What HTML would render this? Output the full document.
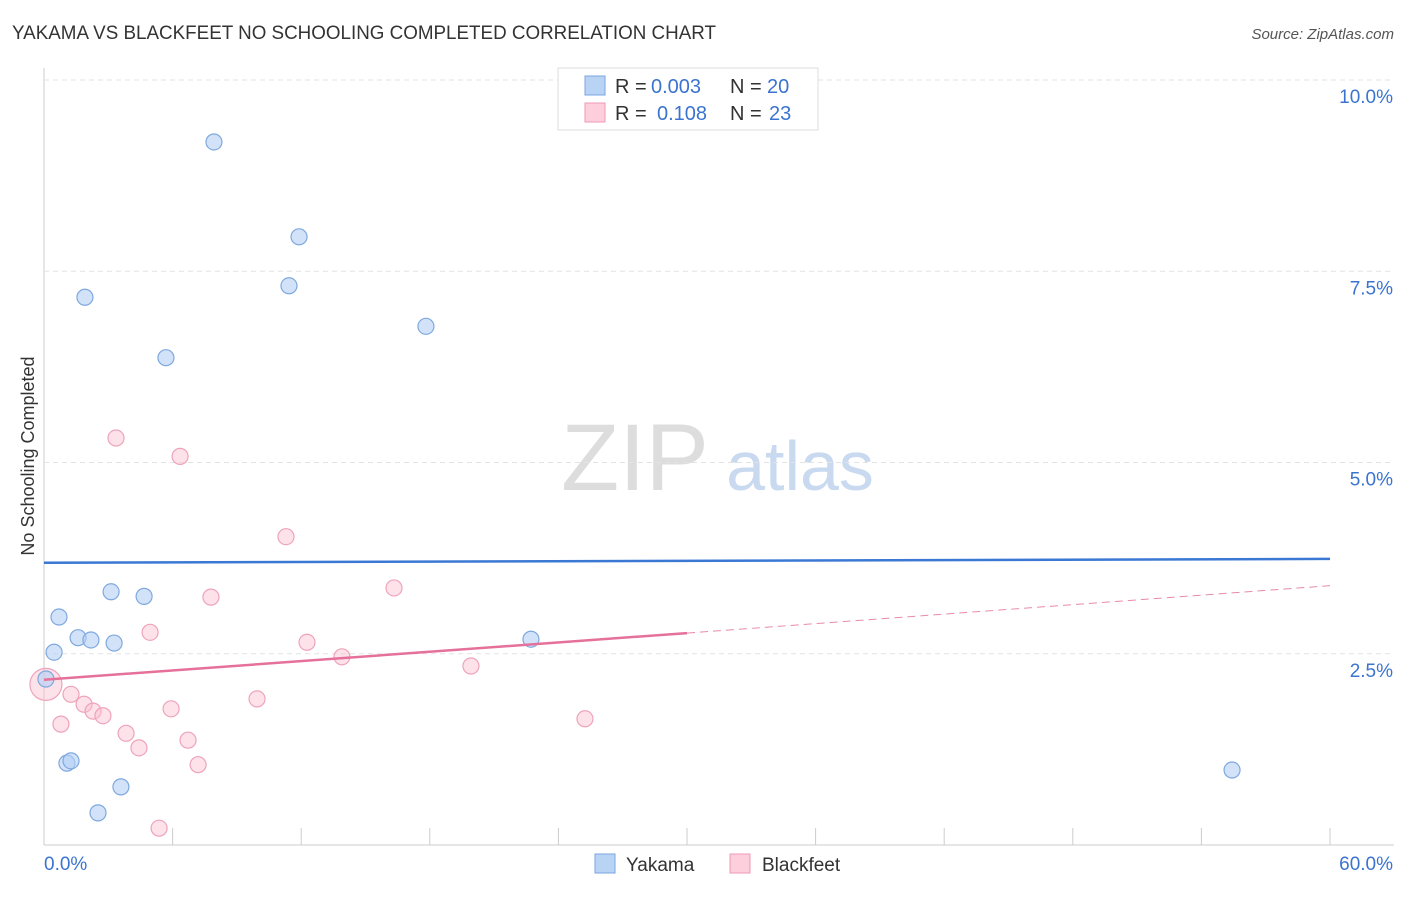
<!DOCTYPE html>
<html><head><meta charset="utf-8"><style>
body{margin:0;background:#fff;font-family:"Liberation Sans",sans-serif;}
svg text{font-family:"Liberation Sans",sans-serif;}
</style></head><body>
<svg id="c" width="1406" height="892" xmlns="http://www.w3.org/2000/svg">
<text x="12" y="39" font-size="19" fill="#333" textLength="704" lengthAdjust="spacingAndGlyphs">YAKAMA VS BLACKFEET NO SCHOOLING COMPLETED CORRELATION CHART</text>
<text x="1394" y="39" font-size="15" fill="#555" font-style="italic" text-anchor="end">Source: ZipAtlas.com</text>
<text x="34" y="456" font-size="18" fill="#333" text-anchor="middle" transform="rotate(-90 34 456)">No Schooling Completed</text>
<g><text x="635" y="490" font-size="95" fill="#ddd" font-family="Liberation Serif" text-anchor="middle">ZIP</text><text x="800" y="490" font-size="70" fill="#c8d9f0" text-anchor="middle">atlas</text></g>
<g id="grid"></g><g id="marks"></g>
<g>
<rect x="558" y="68" width="260" height="62" fill="#fff" stroke="#ddd"/>
<rect x="585" y="76" width="20" height="19" fill="#b9d3f5" stroke="#7aa6e0"/>
<rect x="585" y="103" width="20" height="19" fill="#fdcfdc" stroke="#ef9ab5"/>
<text x="615" y="93" font-size="20" fill="#333">R =</text>
<text x="651" y="93" font-size="20" fill="#3b74d0">0.003</text>
<text x="730" y="93" font-size="20" fill="#333">N =</text>
<text x="767" y="93" font-size="20" fill="#3b74d0">20</text>
<text x="615" y="120" font-size="20" fill="#333">R =</text>
<text x="657" y="120" font-size="20" fill="#3b74d0">0.108</text>
<text x="730" y="120" font-size="20" fill="#333">N =</text>
<text x="769" y="120" font-size="20" fill="#3b74d0">23</text>
</g>
<g>
<rect x="595" y="854" width="20" height="19" fill="#b9d3f5" stroke="#7aa6e0"/>
<text x="626" y="871" font-size="19" fill="#333">Yakama</text>
<rect x="730" y="854" width="20" height="19" fill="#fdcfdc" stroke="#ef9ab5"/>
<text x="762" y="871" font-size="19" fill="#333">Blackfeet</text>
</g>
</svg>
<script>
const yTicks=[2.5,5.0,7.5,10.0];
const xTickLabels=["0.0%","60.0%"];
const yakX=[7.93,11.9,11.43,1.91,5.69,17.82,3.13,4.67,0.70,0.47,1.59,2.19,3.27,22.72,0.09,1.07,1.26,3.59,2.52,55.43];
const yakY=[9.19,7.95,7.31,7.16,6.37,6.78,3.31,3.25,2.98,2.52,2.71,2.68,2.64,2.69,2.17,1.07,1.10,0.76,0.42,0.98];
const blkX=[3.36,6.35,11.29,16.33,7.79,4.95,12.27,13.9,19.92,0.09,1.26,1.87,2.29,2.75,0.79,5.93,9.94,3.83,4.43,6.72,7.19,25.24,5.37];
const blkY=[5.32,5.08,4.03,3.36,3.24,2.78,2.65,2.46,2.34,2.10,1.97,1.84,1.75,1.69,1.58,1.78,1.91,1.46,1.27,1.37,1.05,1.65,0.22];
const yakLine=[3.69,3.74];
const blkLine=[2.16,2.77,3.39];
const NS="http://www.w3.org/2000/svg";
const sx=v=>44+v/60*1286, sy=v=>845-v*76.5;
function mk(t,a,p){const e=document.createElementNS(NS,t);for(const k in a)e.setAttribute(k,a[k]);p.appendChild(e);return e;}
const g=document.getElementById('grid'),m=document.getElementById('marks');
let ax=mk('line',{x1:44,y1:68,x2:44,y2:845,stroke:'#ccc'},g);

let bx=mk('line',{x1:44,y1:845,x2:1394,y2:845,stroke:'#ccc'},g);

for(let i=1;i<=10;i++){const t=mk('line',{x1:44+i*128.6,y1:828,x2:44+i*128.6,y2:845,stroke:'#ccc'},g);
}
yTicks.forEach(v=>{const l=mk('line',{x1:44,y1:sy(v),x2:1394,y2:sy(v),stroke:'#e3e3e3','stroke-dasharray':'5,4'},g);

const t=mk('text',{x:1393,y:sy(v)+23,'font-size':19,fill:'#3b74d0','text-anchor':'end'},g);t.textContent=v.toFixed(1)+'%';
});
xTickLabels.forEach((s,i)=>{const t=mk('text',{x:i?1393:44,y:870,'font-size':19,fill:'#3b74d0','text-anchor':i?'end':'start'},g);t.textContent=s;
});
blkX.forEach((x,i)=>{const c=mk('circle',{cx:sx(x),cy:sy(blkY[i]),r:i==9?16:8,fill:'rgba(250,190,208,0.45)',stroke:'#eea3bb','stroke-width':1.2},m);
});
yakX.forEach((x,i)=>{const c=mk('circle',{cx:sx(x),cy:sy(yakY[i]),r:8,fill:'rgba(180,208,245,0.6)',stroke:'#7fa8de','stroke-width':1.2},m);
});
let l1=mk('line',{x1:sx(0),y1:sy(yakLine[0]),x2:sx(60),y2:sy(yakLine[1]),stroke:'#3a78d4','stroke-width':2.5},m);

let l2=mk('line',{x1:sx(0),y1:sy(blkLine[0]),x2:sx(30),y2:sy(blkLine[1]),stroke:'#e5709a','stroke-width':2.5},m);

let l3=mk('line',{x1:sx(30),y1:sy(blkLine[1]),x2:sx(60),y2:sy(blkLine[2]),stroke:'#e88aab','stroke-width':1,'stroke-dasharray':'8,5'},m);

</script>
</body></html>
